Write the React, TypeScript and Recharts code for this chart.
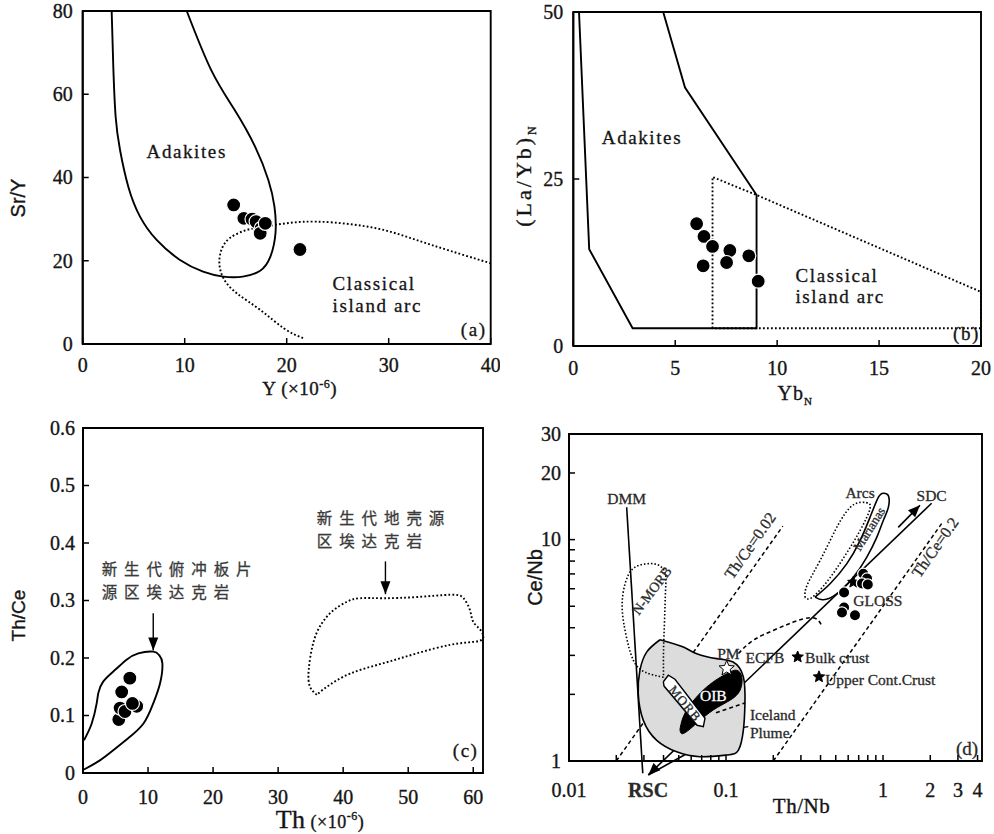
import React from "react";
import {
  ScatterChart,
  Scatter,
  XAxis,
  YAxis,
  ReferenceArea,
  ReferenceLine,
  ReferenceDot,
  Label,
} from "recharts";

const SERIF = '"Liberation Serif", "Times New Roman", serif';
const SANS = '"Liberation Sans", Arial, sans-serif';
const CJK = '"Noto Sans CJK SC", "Noto Sans CJK JP", sans-serif';
const INK = "#151515";

type Pt = { x: number; y: number };
type Note = { x: number; y: number; text: string };
type NoteStyle = {
  anchor?: "start" | "middle" | "end";
  size?: number;
  rotate?: number;
  font?: string;
  fill?: string;
  weight?: number | string;
  spacing?: number;
  lineGap?: number;
};

const toPts = (pairs: number[][]): Pt[] => pairs.map(([x, y]) => ({ x, y }));

// ---------- (a) Sr/Y vs Y ----------
const aXTicks = [0, 10, 20, 30, 40];
const aYTicks = [0, 20, 40, 60, 80];
const aSamples = toPts([
  [14.8, 33.4], [15.8, 30.2], [16.6, 30.0], [17.0, 29.4],
  [17.5, 27.8], [17.4, 26.6], [17.9, 29.0], [21.3, 22.7],
]);
const aAdakiteField = toPts([
  [2.84, 80], [3.0, 66.6], [3.23, 54.6], [3.66, 46.6], [4.47, 37.8], [5.62, 30.6],
  [7.25, 25.0], [9.54, 20.2], [11.8, 17.4], [13.8, 16.2], [15.7, 16.2], [17.4, 17.6],
  [18.4, 21.0], [18.9, 26.6], [18.8, 33.0], [18.2, 39.4], [16.9, 47.4], [14.9, 56.2],
  [12.6, 65.8], [10.2, 80],
]);
const aArcField = toPts([
  [21.6, 1.4], [19.7, 3.8], [17.4, 8.2], [15.1, 12.2], [13.8, 15.8], [13.4, 19.4],
  [13.6, 22.6], [14.4, 25.4], [16.1, 27.4], [18.0, 28.3], [20.3, 29.1], [22.9, 29.4],
  [26.2, 28.8], [29.5, 27.4], [32.7, 25.0], [36.0, 22.4], [40, 19.4],
]);
const aNotes: Note[] = [
  { x: 10.2, y: 46.2, text: "Adakites" },
  { x: 24.5, y: 14.6, text: "Classical" },
  { x: 24.5, y: 9.4, text: "island arc" },
  { x: 39.6, y: 3.4, text: "(a)" },
];

// ---------- (b) (La/Yb)N vs YbN ----------
const bXTicks = [0, 5, 10, 15, 20];
const bYTicks = [0, 25, 50];
const bSamples = toPts([
  [6.05, 18.3], [6.41, 16.4], [6.83, 14.9], [7.68, 14.3],
  [8.61, 13.5], [6.37, 12.0], [7.52, 12.5], [9.07, 9.7],
]);
const bAdakiteField = toPts([
  [0.28, 50], [0.78, 14.5], [2.91, 2.65], [8.99, 2.65], [8.99, 22.6], [5.48, 38.7], [4.41, 50],
]);
const bArcField = toPts([
  [6.83, 2.65], [6.83, 25.3], [9.07, 22.5], [20, 8.1], [20, 2.65], [6.83, 2.65],
]);
const bNotes: Note[] = [
  { x: 3.37, y: 31.3, text: "Adakites" },
  { x: 10.9, y: 10.6, text: "Classical" },
  { x: 10.9, y: 7.4, text: "island arc" },
  { x: 19.95, y: 1.9, text: "(b)" },
];

// ---------- (c) Th/Ce vs Th ----------
const cXTicks = [0, 10, 20, 30, 40, 50, 60];
const cYTicks = [0, 0.1, 0.2, 0.3, 0.4, 0.5, 0.6];
const cSamples = toPts([
  [5.5, 0.093], [5.7, 0.113], [6.46, 0.107], [8.26, 0.116],
  [7.6, 0.121], [5.95, 0.141], [7.2, 0.165],
]);
const cSlabField = toPts([
  [0.15, 0.006], [2.6, 0.022], [4.7, 0.04], [6.9, 0.06], [9.3, 0.086], [10.8, 0.121],
  [11.85, 0.156], [12.2, 0.191], [11.7, 0.205], [10.8, 0.211], [8.5, 0.208], [6.7, 0.197],
  [4.9, 0.179], [3.1, 0.159], [2.35, 0.139], [2.1, 0.121], [1.34, 0.086], [0.15, 0.057],
]);
const cCrustField = toPts([
  [35.95, 0.136], [34.9, 0.15], [34.7, 0.179], [35.4, 0.226], [36.7, 0.26], [38.5, 0.283],
  [40.6, 0.298], [42.6, 0.304], [46.2, 0.304], [51.3, 0.306], [56.5, 0.31], [58.5, 0.304],
  [59.5, 0.283], [60.0, 0.263], [61.1, 0.249], [61.5, 0.234], [60.0, 0.228], [56.5, 0.223],
  [51.3, 0.208], [46.2, 0.191], [41.1, 0.173], [37.5, 0.15], [35.95, 0.136],
]);
const cArrows: Pt[][] = [
  [{ x: 10.8, y: 0.278 }, { x: 10.8, y: 0.213 }],
  [{ x: 46.5, y: 0.368 }, { x: 46.5, y: 0.311 }],
];
// two-line labels: first line sits at the given point
const cNotes: Note[] = [
  { x: 2.87, y: 0.3435, text: "新生代俯冲板片\n源区埃达克岩" },
  { x: 35.95, y: 0.4334, text: "新生代地壳源\n区埃达克岩" },
  { x: 60.8, y: 0.04, text: "(c)" },
];

// ---------- (d) Ce/Nb vs Th/Nb (log-log) ----------
const dXTicks = [
  0.01, 0.02, 0.03, 0.04, 0.05, 0.06, 0.07, 0.08, 0.09,
  0.1, 0.2, 0.3, 0.4, 0.5, 0.6, 0.7, 0.8, 0.9, 1, 2, 3, 4,
];
const dXLabels = [0.01, 0.1, 1, 2, 3, 4];
const dYTicks = [1, 2, 3, 4, 5, 6, 7, 8, 9, 10, 20, 30];
const dYLabels = [1, 10, 20, 30];
const dSamples = toPts([
  [0.749, 7.01], [0.791, 6.67], [0.735, 6.34], [0.8, 6.27],
  [0.565, 5.77], [0.565, 4.94], [0.548, 4.69], [0.663, 4.55],
]);
const dIcelandField = toPts([
  [0.038, 3.53], [0.0535, 3.27], [0.0651, 3.05], [0.0873, 2.9], [0.111, 2.8], [0.129, 2.4],
  [0.132, 1.82], [0.129, 1.38], [0.12, 1.12], [0.101, 1.064], [0.0683, 1.046], [0.0485, 1.1],
  [0.0362, 1.24], [0.0297, 1.53], [0.0276, 2.02], [0.0283, 2.57], [0.0313, 3.11], [0.038, 3.53],
]);
const dOibField = toPts([
  [0.0509, 1.39], [0.0562, 1.7], [0.0754, 2.16], [0.101, 2.48], [0.117, 2.57], [0.126, 2.4],
  [0.123, 2.09], [0.106, 1.88], [0.083, 1.7], [0.065, 1.48], [0.0535, 1.33], [0.0509, 1.39],
]);
const dMorbField = toPts([
  [0.0399, 2.28], [0.0429, 2.44], [0.0473, 2.34], [0.0735, 1.56], [0.0717, 1.43],
  [0.0654, 1.45], [0.0403, 2.18], [0.0399, 2.28],
]);
const dNmorbField = toPts([
  [0.04, 2.39], [0.0305, 2.52], [0.0257, 2.85], [0.0231, 3.69], [0.0218, 4.94], [0.0228, 6.34],
  [0.0256, 7.4], [0.0305, 7.76], [0.0363, 7.72], [0.0409, 7.1], [0.0412, 5.89], [0.0406, 4.32],
  [0.04, 3.16], [0.04, 2.39],
]);
const dEcfbCurve = toPts([
  [0.12, 3.06], [0.149, 3.51], [0.2, 3.89], [0.268, 4.24], [0.343, 4.44], [0.387, 4.32], [0.409, 4.06],
]);
const dEcfbLower = toPts([[0.0863, 1.65], [0.132, 1.83]]);
const dArcsField = toPts([
  [0.319, 5.48], [0.328, 6.21], [0.397, 8.04], [0.495, 10.98], [0.573, 13.1], [0.663, 14.5],
  [0.78, 14.7], [0.826, 13.8], [0.714, 10.98], [0.573, 8.47], [0.446, 6.54], [0.353, 5.48],
  [0.319, 5.48],
]);
const dMarianasField = toPts([
  [0.369, 5.5], [0.46, 6.32], [0.587, 7.77], [0.714, 9.9], [0.826, 12.6], [0.933, 15.5],
  [1.004, 16.2], [1.081, 15.8], [1.081, 13.98], [1.004, 12.2], [0.912, 10.24], [0.787, 8.32],
  [0.647, 6.76], [0.507, 5.69], [0.417, 5.35], [0.369, 5.5],
]);
const dThCe002 = [{ x: 0.02, y: 1 }, { x: 0.23, y: 11.5 }];
const dThCe02 = [{ x: 0.2, y: 1 }, { x: 2.4, y: 12 }];
const dDmm = [{ x: 0.0233, y: 14 }, { x: 0.0295, y: 0.88 }];
const dTrend = [{ x: 0.032, y: 0.865 }, { x: 2.04, y: 14.6 }];
const dRscShaft = [{ x: 0.0576, y: 1.09 }, { x: 0.032, y: 0.865 }];
const dSdcArrow = [{ x: 1.25, y: 11.36 }, { x: 1.72, y: 14.3 }];
const dPlumeArrow = [{ x: 0.1387, y: 1.43 }, { x: 0.1087, y: 1.39 }];
const dPmStar = toPts([[0.101, 2.62]]);
const dRefStars = toPts([[0.286, 2.95], [0.391, 2.4], [0.647, 6.42]]);
const dNotes: Note[] = [
  { x: 0.0233, y: 15.3, text: "DMM" },
  { x: 0.0336, y: 5.89, text: "N-MORB" },
  { x: 0.142, y: 9.4, text: "Th/Ce=0.02" },
  { x: 2.14, y: 9.23, text: "Th/Ce=0.2" },
  { x: 0.714, y: 16.3, text: "Arcs" },
  { x: 0.814, y: 11.2, text: "Marianas" },
  { x: 2.04, y: 15.8, text: "SDC" },
  { x: 0.647, y: 5.31, text: "GLOSS" },
  { x: 0.1035, y: 3.06, text: "PM" },
  { x: 0.177, y: 2.93, text: "ECFB" },
  { x: 0.319, y: 2.93, text: "Bulk crust" },
  { x: 0.428, y: 2.33, text: "Upper Cont.Crust" },
  { x: 0.083, y: 1.98, text: "OIB" },
  { x: 0.0548, y: 1.82, text: "MORB" },
  { x: 0.142, y: 1.53, text: "Iceland\nPlume" },
  { x: 0.0319, y: 0.74, text: "RSC" },
  { x: 4.03, y: 1.14, text: "(d)" },
];
const dNoteStyle: Record<string, NoteStyle> = {
  "N-MORB": { rotate: -53, size: 14 },
  "Th/Ce=0.02": { rotate: -55, size: 16 },
  "Th/Ce=0.2": { rotate: -55, size: 16 },
  Marianas: { rotate: -58, size: 13 },
  GLOSS: { anchor: "start" },
  "Bulk crust": { anchor: "start" },
  "Upper Cont.Crust": { anchor: "start" },
  OIB: { fill: "#fff" },
  MORB: { rotate: 50, size: 13, spacing: 1 },
  "Iceland\nPlume": { anchor: "start", lineGap: 18 },
  RSC: { size: 20, weight: 700 },
  "(d)": { anchor: "end", size: 19 },
};

// ---------- shared drawing helpers ----------
const AXIS_LINE = { stroke: "#000", strokeWidth: 1.9 };
const TM = 4;
const noShape = () => <g />;
const SOLID = { stroke: "#000", strokeWidth: 1.9, fill: "none" };
const DOTTED = { stroke: "#000", strokeWidth: 1.9, strokeDasharray: "1.8 2.2", fill: "none" };
const HEAVY = { stroke: INK, strokeWidth: 0.35 };

function bottomTick(labelY: number, labels?: number[]) {
  return (p: any) => {
    const v = p.payload.value;
    const y0 = p.y - TM;
    const show = !labels || labels.includes(v);
    return (
      <g>
        <line x1={p.x} y1={y0} x2={p.x} y2={y0 - 6} stroke="#000" strokeWidth={1.5} />
        {show && (
          <text x={p.x} y={y0 + labelY} textAnchor="middle" fontFamily={SERIF} fontSize={20} fill={INK} {...HEAVY}>
            {String(v)}
          </text>
        )}
      </g>
    );
  };
}

function leftTick(gap: number, labels?: number[]) {
  return (p: any) => {
    const v = p.payload.value;
    const x0 = p.x + TM;
    const show = !labels || labels.includes(v);
    return (
      <g>
        <line x1={x0} y1={p.y} x2={x0 + 6} y2={p.y} stroke="#000" strokeWidth={1.5} />
        {show && (
          <text x={x0 - gap} y={p.y} dy="0.34em" textAnchor="end" fontFamily={SERIF} fontSize={20} fill={INK} {...HEAVY}>
            {String(v)}
          </text>
        )}
      </g>
    );
  };
}

function xTitle(dx: number, dy: number, node: React.ReactNode, font = SERIF, size = 19, spacing = 0) {
  return (props: any) => {
    const vb = props.viewBox || { x: 0, y: 0, width: 0, height: 0 };
    return (
      <text x={vb.x + vb.width / 2 + dx} y={vb.y + dy} textAnchor="middle" fontFamily={font} fontSize={size}
        letterSpacing={spacing} fill={INK} {...HEAVY}>
        {node}
      </text>
    );
  };
}

function yTitle(dx: number, dy: number, node: React.ReactNode, font = SERIF, size = 19, spacing = 0) {
  return (props: any) => {
    const vb = props.viewBox || { x: 0, y: 0, width: 0, height: 0 };
    const x = vb.x + dx;
    const y = vb.y + vb.height / 2 + dy;
    return (
      <text x={x} y={y} transform={`rotate(-90 ${x} ${y})`} textAnchor="middle" fontFamily={font} fontSize={size}
        letterSpacing={spacing} fill={INK} {...HEAVY}>
        {node}
      </text>
    );
  };
}

function renderNotes(notes: Note[], base: NoteStyle, styles: Record<string, NoteStyle> = {}) {
  return notes.map((n, i) => {
    const s = { ...base, ...(styles[n.text] || {}) };
    const fill = s.fill ?? INK;
    const lines = n.text.split("\n");
    const gap = s.lineGap ?? (s.size ?? 19) * 1.35;
    return (
      <ReferenceDot
        key={`note-${i}`}
        x={n.x}
        y={n.y}
        r={0}
        ifOverflow="visible"
        shape={(p: any) => (
          <text
            x={p.cx}
            y={p.cy}
            dy="0.35em"
            textAnchor={s.anchor ?? "middle"}
            fontFamily={s.font ?? SERIF}
            fontSize={s.size ?? 19}
            fontWeight={s.weight}
            letterSpacing={s.spacing}
            fill={fill}
            stroke={fill}
            strokeWidth={0.3}
            transform={s.rotate ? `rotate(${s.rotate} ${p.cx} ${p.cy})` : undefined}
          >
            {lines.length === 1
              ? n.text
              : lines.map((ln, k) => (
                  <tspan key={k} x={p.cx} dy={k === 0 ? 0 : gap}>
                    {ln}
                  </tspan>
                ))}
          </text>
        )}
      />
    );
  });
}

function arrowShape(head: "start" | "end" | "none", width = 1.6, dash?: string, headLen = 11, headW = 4) {
  return (p: any) => {
    const { x1, y1, x2, y2 } = p;
    let tip: React.ReactNode = null;
    if (head !== "none") {
      const [tx, ty, fx, fy] = head === "end" ? [x2, y2, x1, y1] : [x1, y1, x2, y2];
      const a = Math.atan2(ty - fy, tx - fx);
      const bx = tx - headLen * Math.cos(a);
      const by = ty - headLen * Math.sin(a);
      const ox = headW * Math.sin(a);
      const oy = -headW * Math.cos(a);
      tip = <polygon points={`${tx},${ty} ${bx + ox},${by + oy} ${bx - ox},${by - oy}`} fill="#000" />;
    }
    return (
      <g>
        <line x1={x1} y1={y1} x2={x2} y2={y2} stroke="#000" strokeWidth={width} strokeDasharray={dash} />
        {tip}
      </g>
    );
  };
}

const sampleDot = (r: number) => (p: any) => (
  <circle cx={p.cx} cy={p.cy} r={r} fill="#000" stroke="#fff" strokeWidth={1.2} />
);

function starShape(R: number, fill: string) {
  return (p: any) => {
    const pts: string[] = [];
    for (let i = 0; i < 10; i++) {
      const rad = i % 2 === 0 ? R : R * 0.45;
      const ang = -Math.PI / 2 + (i * Math.PI) / 5;
      pts.push(`${p.cx + rad * Math.cos(ang)},${p.cy + rad * Math.sin(ang)}`);
    }
    return <polygon points={pts.join(" ")} fill={fill} stroke="#000" strokeWidth={1} />;
  };
}

const sup6 = (
  <>
    <tspan> (×10</tspan>
    <tspan dy={-7} fontSize={12}>-6</tspan>
    <tspan dy={7}>)</tspan>
  </>
);

function PanelA() {
  return (
    <ScatterChart width={500} height={410} margin={{ top: 11, right: 9.3, bottom: 16, left: 22.7 }}>
      <XAxis type="number" dataKey="x" domain={[0, 40]} ticks={aXTicks} interval={0} height={50}
        tickSize={0} tickMargin={TM} tickLine={false} axisLine={AXIS_LINE} tick={bottomTick(28)}>
        <Label content={xTitle(13, 51, <><tspan>Y</tspan>{sup6}</>, SERIF, 19, 0.5)} />
      </XAxis>
      <YAxis type="number" dataKey="y" domain={[0, 80]} ticks={aYTicks} interval={0} width={60}
        tickSize={0} tickMargin={TM} tickLine={false} axisLine={AXIS_LINE} tick={leftTick(10)}>
        <Label content={yTitle(2.3, 20.5, "Sr/Y", SANS, 20)} />
      </YAxis>
      <ReferenceArea x1={0} x2={40} y1={0} y2={80} fill="none" stroke="#000" strokeWidth={1.9} ifOverflow="visible" />
      <Scatter data={aArcField} line={DOTTED} lineJointType="natural" shape={noShape} isAnimationActive={false} />
      <Scatter data={aAdakiteField} line={SOLID} lineJointType="natural" shape={noShape} isAnimationActive={false} />
      <Scatter data={aSamples} shape={sampleDot(7)} isAnimationActive={false} />
      {renderNotes(aNotes, { size: 19, spacing: 1.6 }, {
        Classical: { anchor: "start" }, "island arc": { anchor: "start" }, "(a)": { anchor: "end" },
      })}
    </ScatterChart>
  );
}

function PanelB() {
  return (
    <ScatterChart width={494} height={410} margin={{ top: 12, right: 13, bottom: 14, left: 13.3 }}>
      <XAxis type="number" dataKey="x" domain={[0, 20]} ticks={bXTicks} interval={0} height={50}
        tickSize={0} tickMargin={TM} tickLine={false} axisLine={AXIS_LINE} tick={bottomTick(29)}>
        <Label content={xTitle(18, 54, <><tspan>Yb</tspan><tspan dy={5} fontSize={11}>N</tspan></>, SERIF, 20, 1)} />
      </XAxis>
      <YAxis type="number" dataKey="y" domain={[0, 50]} ticks={bYTicks} interval={0} width={60}
        tickSize={0} tickMargin={TM} tickLine={false} axisLine={AXIS_LINE} tick={leftTick(10)}>
        <Label content={yTitle(18, -4, <><tspan>(La/Yb)</tspan><tspan dy={5} fontSize={12}>N</tspan></>, SERIF, 22, 3)} />
      </YAxis>
      <ReferenceArea x1={0} x2={20} y1={0} y2={50} fill="none" stroke="#000" strokeWidth={1.9} ifOverflow="visible" />
      <Scatter data={bArcField} line={DOTTED} shape={noShape} isAnimationActive={false} />
      <Scatter data={bAdakiteField} line={SOLID} shape={noShape} isAnimationActive={false} />
      <Scatter data={bSamples} shape={sampleDot(7)} isAnimationActive={false} />
      {renderNotes(bNotes, { size: 19, spacing: 1.6 }, {
        Classical: { anchor: "start" }, "island arc": { anchor: "start" }, "(b)": { anchor: "end" },
      })}
    </ScatterChart>
  );
}

function PanelC() {
  return (
    <ScatterChart width={500} height={424} margin={{ top: 18, right: 17, bottom: 11, left: 23 }}>
      <XAxis type="number" dataKey="x" domain={[0, 61.5]} ticks={cXTicks} interval={0} height={50}
        tickSize={0} tickMargin={TM} tickLine={false} axisLine={AXIS_LINE} tick={bottomTick(30.5)}>
        <Label content={xTitle(37, 55, <><tspan fontSize={26}>Th</tspan><tspan fontSize={18}> (×10</tspan><tspan dy={-8} fontSize={12}>-6</tspan><tspan dy={8} fontSize={18}>)</tspan></>, SERIF, 18, 0.5)} />
      </XAxis>
      <YAxis type="number" dataKey="y" domain={[0, 0.6]} ticks={cYTicks} interval={0} width={60}
        tickSize={0} tickMargin={TM} tickLine={false} axisLine={AXIS_LINE} tick={leftTick(8)}>
        <Label content={yTitle(2, 15, "Th/Ce", SANS, 19)} />
      </YAxis>
      <ReferenceArea x1={0} x2={61.5} y1={0} y2={0.6} fill="none" stroke="#000" strokeWidth={1.9} ifOverflow="visible" />
      <Scatter data={cCrustField} line={DOTTED} lineJointType="natural" shape={noShape} isAnimationActive={false} />
      <Scatter data={cSlabField} line={SOLID} lineJointType="natural" shape={noShape} isAnimationActive={false} />
      {cArrows.map((seg, i) => (
        <ReferenceLine key={`ca${i}`} segment={seg} ifOverflow="visible" shape={arrowShape("end", 1.4, undefined, 13, 5)} />
      ))}
      <Scatter data={cSamples} shape={sampleDot(7)} isAnimationActive={false} />
      {renderNotes(cNotes, { font: CJK, size: 15.5, spacing: 6.9, anchor: "start", fill: "#3a3a3a", lineGap: 23 }, {
        "(c)": { font: SERIF, size: 19, spacing: 1.5, anchor: "end", fill: INK },
      })}
    </ScatterChart>
  );
}

function PanelD() {
  const thin = { stroke: "#000", strokeWidth: 1.6, fill: "none" };
  return (
    <ScatterChart width={494} height={424} margin={{ top: 24, right: 12, bottom: 23, left: 19 }}>
      <XAxis type="number" dataKey="x" scale="log" domain={[0.01, 4.27]} ticks={dXTicks} interval={0} height={50}
        tickSize={0} tickMargin={TM} tickLine={false} axisLine={AXIS_LINE} tick={bottomTick(36, dXLabels)}>
        <Label content={xTitle(26, 52, "Th/Nb", SERIF, 21, 0.5)} />
      </XAxis>
      <YAxis type="number" dataKey="y" scale="log" domain={[1, 30]} ticks={dYTicks} interval={0} width={50}
        tickSize={0} tickMargin={TM} tickLine={false} axisLine={AXIS_LINE} tick={leftTick(8, dYLabels)}>
        <Label content={yTitle(23, -20, "Ce/Nb", SANS, 20)} />
      </YAxis>
      <ReferenceArea x1={0.01} x2={4.27} y1={1} y2={30} fill="none" stroke="#000" strokeWidth={1.9} ifOverflow="visible" />
      <Scatter data={dIcelandField} line={{ ...thin, fill: "#dcdcdc" }} lineJointType="natural" shape={noShape} isAnimationActive={false} />
      <Scatter data={dNmorbField} line={{ ...thin, strokeDasharray: "1.5 2" }} lineJointType="natural" shape={noShape} isAnimationActive={false} />
      <Scatter data={dEcfbCurve} line={{ ...thin, strokeDasharray: "4 3" }} lineJointType="natural" shape={noShape} isAnimationActive={false} />
      <Scatter data={dEcfbLower} line={{ ...thin, strokeDasharray: "4 3" }} shape={noShape} isAnimationActive={false} />
      <Scatter data={dArcsField} line={{ ...thin, strokeDasharray: "1.5 2" }} lineJointType="natural" shape={noShape} isAnimationActive={false} />
      <Scatter data={dMarianasField} line={thin} lineJointType="natural" shape={noShape} isAnimationActive={false} />
      <Scatter data={dOibField} line={{ stroke: "#000", strokeWidth: 1, fill: "#000" }} lineJointType="natural" shape={noShape} isAnimationActive={false} />
      <Scatter data={dMorbField} line={{ stroke: "#000", strokeWidth: 1.4, fill: "#fff" }} shape={noShape} isAnimationActive={false} />
      <ReferenceLine segment={dThCe002} ifOverflow="visible" shape={arrowShape("none", 1.5, "4 3")} />
      <ReferenceLine segment={dThCe02} ifOverflow="visible" shape={arrowShape("none", 1.5, "4 3")} />
      <ReferenceLine segment={dDmm} ifOverflow="visible" shape={arrowShape("none", 1.6)} />
      <ReferenceLine segment={dTrend} ifOverflow="visible" shape={arrowShape("start", 1.6, undefined, 12, 5)} />
      <ReferenceLine segment={dRscShaft} ifOverflow="visible" shape={arrowShape("none", 1.6)} />
      <ReferenceLine segment={dSdcArrow} ifOverflow="visible" shape={arrowShape("end", 1.6, undefined, 12, 5)} />
      <ReferenceLine segment={dPlumeArrow} ifOverflow="visible" shape={arrowShape("end", 1.2, undefined, 8, 3.5)} />
      <Scatter data={dPmStar} shape={starShape(8, "#fff")} isAnimationActive={false} />
      <Scatter data={dRefStars} shape={starShape(6, "#000")} isAnimationActive={false} />
      <Scatter data={dSamples} shape={sampleDot(5.6)} isAnimationActive={false} />
      {renderNotes(dNotes, { size: 15.5, fill: "#2a2a2a" }, dNoteStyle)}
    </ScatterChart>
  );
}

export default function App() {
  return (
    <div style={{ position: "absolute", left: 0, top: 0, width: 994, height: 834, background: "#fff" }}>
      <div style={{ position: "absolute", left: 0, top: 0 }}>
        <PanelA />
      </div>
      <div style={{ position: "absolute", left: 500, top: 0 }}>
        <PanelB />
      </div>
      <div style={{ position: "absolute", left: 0, top: 410 }}>
        <PanelC />
      </div>
      <div style={{ position: "absolute", left: 500, top: 410 }}>
        <PanelD />
      </div>
    </div>
  );
}
